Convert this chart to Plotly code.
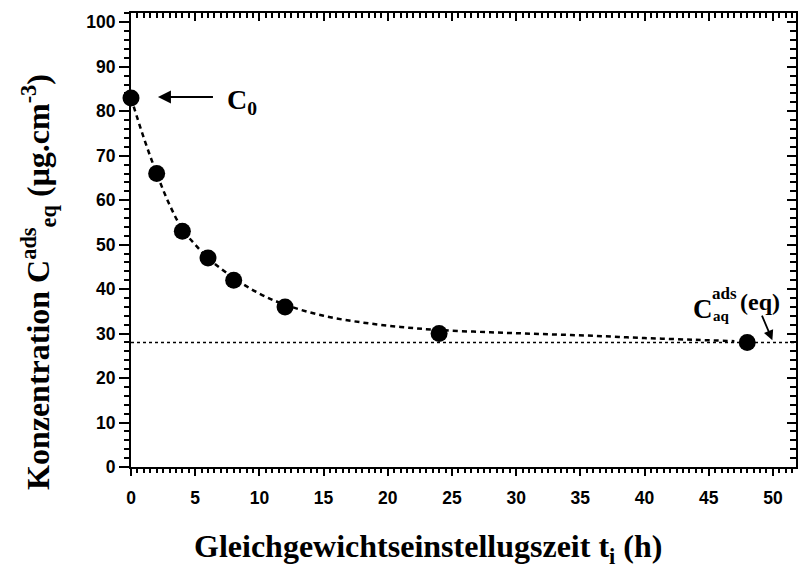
import plotly.graph_objects as go

# measured data points
t_h = [0, 2, 4, 6, 8, 12, 24, 48]
conc = [83, 66, 53, 47, 42, 36, 30, 28]

# dashed fit curve
fit_t = [0, 1, 2, 3, 4, 5, 6, 8, 10, 12, 15, 18, 21, 24, 28, 32, 36, 40, 44, 47]
fit_c = [83, 74, 66, 59, 53.5, 50, 47, 42.5, 39, 36.5, 34, 32.5, 31.5, 30.8, 30.3, 29.9, 29.5, 29.0, 28.6, 28.3]

# equilibrium level
eq_level = 28
x_range = [0, 51.8]
y_range = [0, 102.1]
x_ticks = [0, 5, 10, 15, 20, 25, 30, 35, 40, 45, 50]
y_ticks = [0, 10, 20, 30, 40, 50, 60, 70, 80, 90, 100]

fig = go.Figure()

fig.add_trace(go.Scatter(x=[x_range[0], x_range[1]], y=[eq_level, eq_level], mode="lines",
                         line=dict(color="black", width=1.5, dash="dot"), showlegend=False,
                         cliponaxis=False))
fig.add_trace(go.Scatter(x=fit_t, y=fit_c, mode="lines",
                         line=dict(color="black", width=2.5, dash="5px,4px", shape="spline"),
                         showlegend=False))
fig.add_trace(go.Scatter(x=t_h, y=conc, mode="markers",
                         marker=dict(color="black", size=17), showlegend=False, cliponaxis=False))
fig.add_trace(go.Scatter(x=[], y=[], xaxis="x2", yaxis="y2", showlegend=False))

tickfont = dict(family="Liberation Sans, Arial", size=17.5, color="black", weight="bold")

fig.update_layout(
    width=799, height=572,
    margin=dict(l=131, r=3, t=13, b=105),
    plot_bgcolor="white", paper_bgcolor="white",
    xaxis=dict(range=x_range, tickvals=x_ticks, ticks="outside", ticklen=7, tickwidth=2,
               tickcolor="black", showline=True, linewidth=2, linecolor="black",
               showgrid=False, zeroline=False, tickfont=tickfont, ticklabelstandoff=7,
               minor=dict(dtick=0.5, tick0=0, ticks="outside", ticklen=4, tickwidth=1.5,
                          tickcolor="black", showgrid=False)),
    yaxis=dict(range=y_range, tickvals=y_ticks, ticks="outside", ticklen=10, tickwidth=2,
               tickcolor="black", showline=True, linewidth=2, linecolor="black",
               showgrid=False, zeroline=False, tickfont=tickfont,
               minor=dict(dtick=2, tick0=0, ticks="outside", ticklen=5, tickwidth=1.5,
                          tickcolor="black", showgrid=False)),
    xaxis2=dict(range=x_range, overlaying="x", side="top", tickvals=x_ticks, ticks="inside",
                ticklen=8, tickwidth=2, tickcolor="black", showline=True, linewidth=2,
                linecolor="black", showgrid=False, zeroline=False, showticklabels=False,
                minor=dict(dtick=0.5, tick0=0, ticks="inside", ticklen=5, tickwidth=1.5,
                           tickcolor="black", showgrid=False)),
    yaxis2=dict(range=y_range, overlaying="y", side="right", tickvals=y_ticks, ticks="inside",
                ticklen=9, tickwidth=2, tickcolor="black", showline=True, linewidth=2,
                linecolor="black", showgrid=False, zeroline=False, showticklabels=False,
                minor=dict(dtick=2, tick0=0, ticks="inside", ticklen=6, tickwidth=1.5,
                           tickcolor="black", showgrid=False)),
)

serif = "Liberation Serif, Times New Roman"

# axis titles
fig.add_annotation(text="Gleichgewichtseinstellugszeit t<sub>i</sub> (h)", xref="paper", yref="paper",
                   x=(428 - 131) / 665, y=-(548 - 467) / 454, xanchor="center", yanchor="middle",
                   showarrow=False, font=dict(family=serif, size=32, color="black", weight="bold"))
fig.add_annotation(text="Konzentration C<sup>ads</sup><sub>eq</sub> (μg.cm<sup>-3</sup>)", xref="paper",
                   yref="paper", x=-(131 - 38) / 665, y=(467 - 282) / 454, xanchor="center",
                   yanchor="middle", textangle=-90, showarrow=False,
                   font=dict(family=serif, size=32, color="black", weight="bold"))

# C0 arrow and label
fig.add_annotation(x=2.1, y=83.2, ax=6.5, ay=83.2, axref="x", ayref="y", xref="x", yref="y",
                   text="", showarrow=True, arrowhead=2, arrowsize=1.3, arrowwidth=2, arrowcolor="black")
fig.add_annotation(x=7.3, y=82.3, text="C<sub>0</sub>", showarrow=False, xanchor="left",
                   yanchor="middle", font=dict(family=serif, size=28, color="black", weight="bold"))

# C_aq^ads (eq) arrow and label
fig.add_annotation(x=49.96, y=28.5, ax=49.1, ay=34.4, axref="x", ayref="y", xref="x", yref="y",
                   text="", showarrow=True, arrowhead=2, arrowsize=1.1, arrowwidth=1.8, arrowcolor="black")
fig.add_annotation(x=(703 - 131) / 12.846, y=(467 - 309) / 4.444, text="C", showarrow=False,
                   xanchor="center", yanchor="middle",
                   font=dict(family=serif, size=27, color="black", weight="bold"))
fig.add_annotation(x=(711 - 131) / 12.846, y=(467 - 294) / 4.444, text="ads", showarrow=False,
                   xanchor="left", yanchor="middle", borderpad=0,
                   font=dict(family=serif, size=17, color="black", weight="bold"))
fig.add_annotation(x=(712 - 131) / 12.846, y=(467 - 316) / 4.444, text="aq", showarrow=False,
                   xanchor="left", yanchor="middle", borderpad=0,
                   font=dict(family=serif, size=15, color="black", weight="bold"))
fig.add_annotation(x=(738 - 131) / 12.846, y=(467 - 302) / 4.444, text="(eq)", showarrow=False,
                   xanchor="left", yanchor="middle",
                   font=dict(family=serif, size=24, color="black", weight="bold"))

fig.write_html("out.html")
